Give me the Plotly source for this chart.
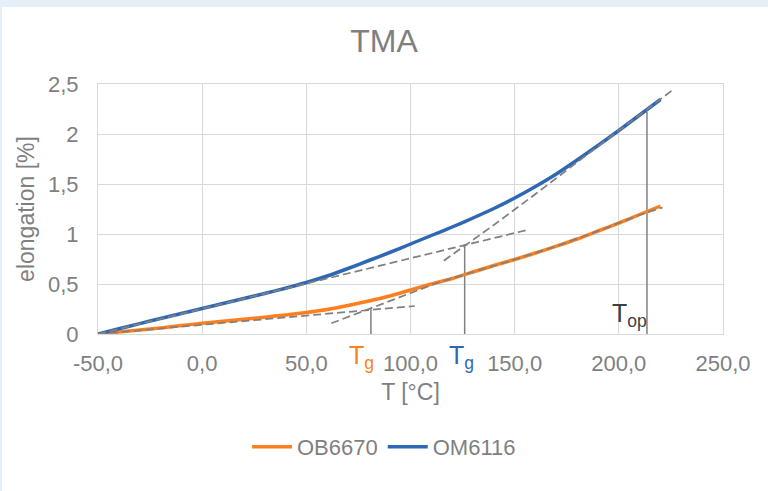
import plotly.graph_objects as go

# ---- data ----
temp_x = [-50, -40, -30, -20, -10, 0, 10, 20, 30, 40, 50, 60, 70, 80, 90, 100,
          110, 120, 130, 140, 150, 160, 170, 180, 190, 200, 210, 220]
ob6670 = [0, 0.02, 0.04, 0.06, 0.085, 0.107, 0.127, 0.147, 0.168, 0.19, 0.215,
          0.245, 0.285, 0.33, 0.38, 0.44, 0.50, 0.555, 0.62, 0.685, 0.745, 0.81,
          0.878, 0.95, 1.03, 1.11, 1.195, 1.28]
om6116 = [0, 0.052, 0.104, 0.155, 0.205, 0.255, 0.305, 0.355, 0.405, 0.458, 0.515,
          0.58, 0.655, 0.735, 0.815, 0.90, 0.985, 1.07, 1.16, 1.255, 1.36, 1.475,
          1.60, 1.74, 1.885, 2.035, 2.19, 2.345]

# tangent / trend lines (dashed)
ob_low_x = [-50, 102]
ob_low_y = [0, 0.28]
ob_high_x = [62, 80, 100, 114, 130, 150, 170, 190, 210, 221]
ob_high_y = [0.107, 0.25, 0.41, 0.52, 0.62, 0.745, 0.878, 1.03, 1.19, 1.265]
om_low_x = [-50, 156]
om_low_y = [0, 1.04]
om_high_x = [116, 140, 160, 170, 180, 190, 200, 210, 220, 225.4]
om_high_y = [0.733, 1.09, 1.40, 1.56, 1.72, 1.88, 2.035, 2.19, 2.345, 2.433]

# marker lines (Tg orange, Tg blue, Top)
tg_ob_x, tg_ob_y = 81, 0.25
tg_om_x, tg_om_y = 126, 0.90
top_x, top_y = 213.5, 2.22

x_ticks = [-50, 0, 50, 100, 150, 200, 250]
x_tick_labels = ["-50,0", "0,0", "50,0", "100,0", "150,0", "200,0", "250,0"]
y_ticks = [0, 0.5, 1, 1.5, 2, 2.5]
y_tick_labels = ["0", "0,5", "1", "1,5", "2", "2,5"]

ORANGE = "#FF7F1E"
BLUE = "#2E68B4"
GRAY = "#808080"
TXT = "#7F7F7F"
FONT = "Liberation Sans, Arial, sans-serif"

fig = go.Figure()

for vx, vy in [(tg_ob_x, tg_ob_y), (tg_om_x, tg_om_y), (top_x, top_y)]:
    fig.add_trace(go.Scatter(x=[vx, vx], y=[0, vy], mode="lines",
                             line=dict(color=GRAY, width=1.5),
                             showlegend=False, hoverinfo="skip"))

fig.add_trace(go.Scatter(x=temp_x, y=ob6670, mode="lines", name="OB6670",
                         line=dict(color=ORANGE, width=3.5, shape="spline", smoothing=0.6)))
fig.add_trace(go.Scatter(x=temp_x, y=om6116, mode="lines", name="OM6116",
                         line=dict(color=BLUE, width=3.5, shape="spline", smoothing=0.6)))

for dx, dy in [(ob_low_x, ob_low_y), (ob_high_x, ob_high_y),
               (om_low_x, om_low_y), (om_high_x, om_high_y)]:
    fig.add_trace(go.Scatter(x=dx, y=dy, mode="lines",
                             line=dict(color=GRAY, width=1.75, dash="8px,4px"),
                             showlegend=False, hoverinfo="skip"))

fig.update_layout(
    width=768, height=491,
    margin=dict(l=98, r=45, t=84, b=157),
    paper_bgcolor="white", plot_bgcolor="white",
    font=dict(family=FONT, color=TXT, size=22),
    title=dict(text="TMA", x=0.5, xref="container", xanchor="center",
               y=1 - 41 / 491, yref="container", yanchor="middle",
               font=dict(size=32, color=TXT)),
    legend=dict(orientation="h", x=0.5, xanchor="center", xref="container",
                y=1 - 447 / 491, yref="container", yanchor="middle",
                font=dict(size=22, color=TXT), itemwidth=40),
    showlegend=True,
)

fig.update_xaxes(range=[-50, 250], tickvals=x_ticks, ticktext=x_tick_labels,
                 showgrid=True, gridcolor="#D9D9D9", gridwidth=1,
                 showline=True, linecolor="#D9D9D9", mirror=True,
                 zeroline=False, ticks="", ticklabelstandoff=10,
                 tickfont=dict(size=22, color=TXT),
                 title=dict(text="T [°C]", standoff=8,
                            font=dict(size=23, color=TXT)))
fig.update_yaxes(range=[0, 2.5], tickvals=y_ticks, ticktext=y_tick_labels,
                 showgrid=True, gridcolor="#D9D9D9", gridwidth=1,
                 showline=True, linecolor="#D9D9D9", mirror=True,
                 zeroline=False, ticks="", ticklabelstandoff=14,
                 tickfont=dict(size=22, color=TXT),
                 title=dict(text="elongation [%]", standoff=6,
                            font=dict(size=23, color=TXT)))

# outer light-blue frame bands
fig.add_shape(type="rect", xref="paper", yref="paper", x0=-0.2, x1=1.2,
              y0=(334 - 7) / 250, y1=1.45, fillcolor="#E3F0FA", line_width=0,
              layer="below")
fig.add_shape(type="rect", xref="paper", yref="paper", x0=-0.2, x1=-96 / 625,
              y0=-0.7, y1=1.45, fillcolor="#E3F0FA", line_width=0, layer="below")

# annotations
fig.add_annotation(x=76.5, y=-0.09, xref="x", yref="paper", showarrow=False,
                   text="T<sub>g</sub>", font=dict(size=25, color=ORANGE),
                   xanchor="center", yanchor="middle")
fig.add_annotation(x=124.5, y=-0.09, xref="x", yref="paper", showarrow=False,
                   text="T<sub>g</sub>", font=dict(size=25, color=BLUE),
                   xanchor="center", yanchor="middle")
fig.add_annotation(x=205, y=0.19, xref="x", yref="y", showarrow=False,
                   text="T<sub>op</sub>", font=dict(size=25, color="#404040"),
                   xanchor="center", yanchor="middle")

fig.write_html("out.html",
               config={"displayModeBar": False},
               post_script="document.body.style.margin='0';"
                           "document.body.style.overflow='hidden';")
